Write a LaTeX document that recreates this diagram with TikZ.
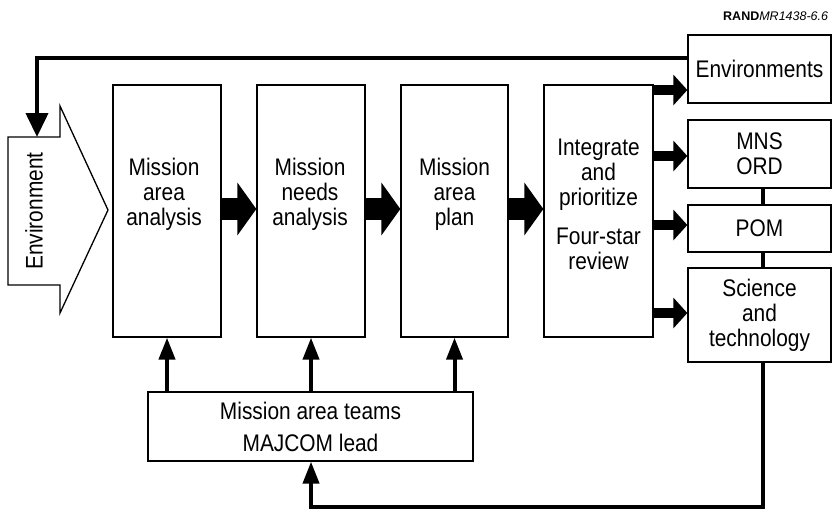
\documentclass[tikz,border=0pt]{standalone}
\usepackage{fontspec}
\setmainfont[FakeStretch=0.87]{Liberation Sans}
\newfontfamily\randfont{Liberation Sans}
\usetikzlibrary{arrows.meta,calc}
\begin{document}
\begin{tikzpicture}[x=1pt,y=-1pt,
  box/.style={draw,line width=1.3pt,rectangle,inner sep=0pt},
  txt/.style={align=center,font=\fontsize{24}{25}\selectfont,inner sep=0pt},
  fat/.style={line width=22pt,-{Triangle[length=19pt,width=52pt]}},
  fatsm/.style={line width=10pt,-{Triangle[length=14pt,width=30pt]}},
  conn/.style={line width=4pt},
  arr/.style={line width=4pt,-{Triangle[length=22pt,width=16pt]}}]
\useasboundingbox (0,0) rectangle (833,512);

% RAND label
\node[anchor=west,inner sep=0pt,font=\randfont\fontsize{12.5}{14}\selectfont] (rand) at (723,16) {\textbf{RAND}\textit{MR1438-6.6}};

% Environment arrow shape
\draw[line width=1.3pt] (8,137) -- (60,137) -- (60,106) -- (108,210) -- (60,313) -- (60,285) -- (8,285) -- cycle;
\node[txt,rotate=90] (envt) at (34,211) {Environment};
\coordinate (envtop) at (37,137);

% main boxes
\node[box,minimum width=108pt,minimum height=252pt] (b1) at (167,211) {};
\node[txt] (t1) at (164,194) {Mission\\area\\analysis};
\node[box,minimum width=108pt,minimum height=252pt] (b2) at (311,211) {};
\node[txt] (t2) at (310,194) {Mission\\needs\\analysis};
\node[box,minimum width=107pt,minimum height=252pt] (b3) at (454.5,211) {};
\node[txt] (t3) at (454.5,194) {Mission\\area\\plan};
\node[box,minimum width=109pt,minimum height=252pt] (b4) at (598.5,211) {};
\node[txt] (t4) at (598.5,204) {Integrate\\and\\prioritize\\[14pt]Four-star\\review};

% right boxes
\node[box,minimum width=143pt,minimum height=68pt] (r1) at (759.5,69) {};
\node[txt] (rt1) at (759.5,69) {Environments};
\node[box,minimum width=143pt,minimum height=68pt] (r2) at (759.5,154) {};
\node[txt] (rt2) at (759.5,154) {MNS\\ORD};
\node[box,minimum width=143pt,minimum height=47pt] (r3) at (759.5,228.5) {};
\node[txt] (rt3) at (759.5,228.5) {POM};
\node[box,minimum width=143pt,minimum height=94pt] (r4) at (759.5,315) {};
\node[txt] (rt4) at (759.5,315) {Science\\and\\technology};

% mission area teams
\node[box,minimum width=325pt,minimum height=69pt] (mat) at (310.5,426.5) {};
\node[txt] (matt) at (310.5,426.5) {Mission area teams\\[7pt]MAJCOM lead};

% fat arrows between main boxes
\coordinate (ym) at (0,209);
\draw[fat] (b1.east |- ym) -- (b2.west |- ym);
\draw[fat] (b2.east |- ym) -- (b3.west |- ym);
\draw[fat] (b3.east |- ym) -- (b4.west |- ym);

% fat arrows to right boxes
\coordinate (ya) at (0,90);
\coordinate (yb) at (0,156);
\coordinate (yc) at (0,225);
\coordinate (yd) at (0,313);
\draw[fatsm] (b4.east |- ya) -- (r1.west |- ya);
\draw[fatsm] (b4.east |- yb) -- (r2.west |- yb);
\draw[fatsm] (b4.east |- yc) -- (r3.west |- yc);
\draw[fatsm] (b4.east |- yd) -- (r4.west |- yd);

% links between right boxes
\coordinate (xr) at (763,0);
\draw[conn] (r2.south -| xr) -- (r3.north -| xr);
\draw[conn] (r3.south -| xr) -- (r4.north -| xr);

% feedback to environment
\coordinate (fb) at (688,58);
\draw[line width=4pt,-{Triangle[length=24pt,width=22pt]}] (fb) -| (envtop);

% up arrows from mission area teams
\draw[arr] (mat.north -| b1.south) -- (b1.south);
\draw[arr] (mat.north -| b2.south) -- (b2.south);
\draw[arr] (mat.north -| b3.south) -- (b3.south);

% bottom feedback
\coordinate (bot) at (763,507);
\draw[arr] (r4.south -| xr) -- (bot) -| (mat.south -| b2.south);
\end{tikzpicture}
\end{document}
